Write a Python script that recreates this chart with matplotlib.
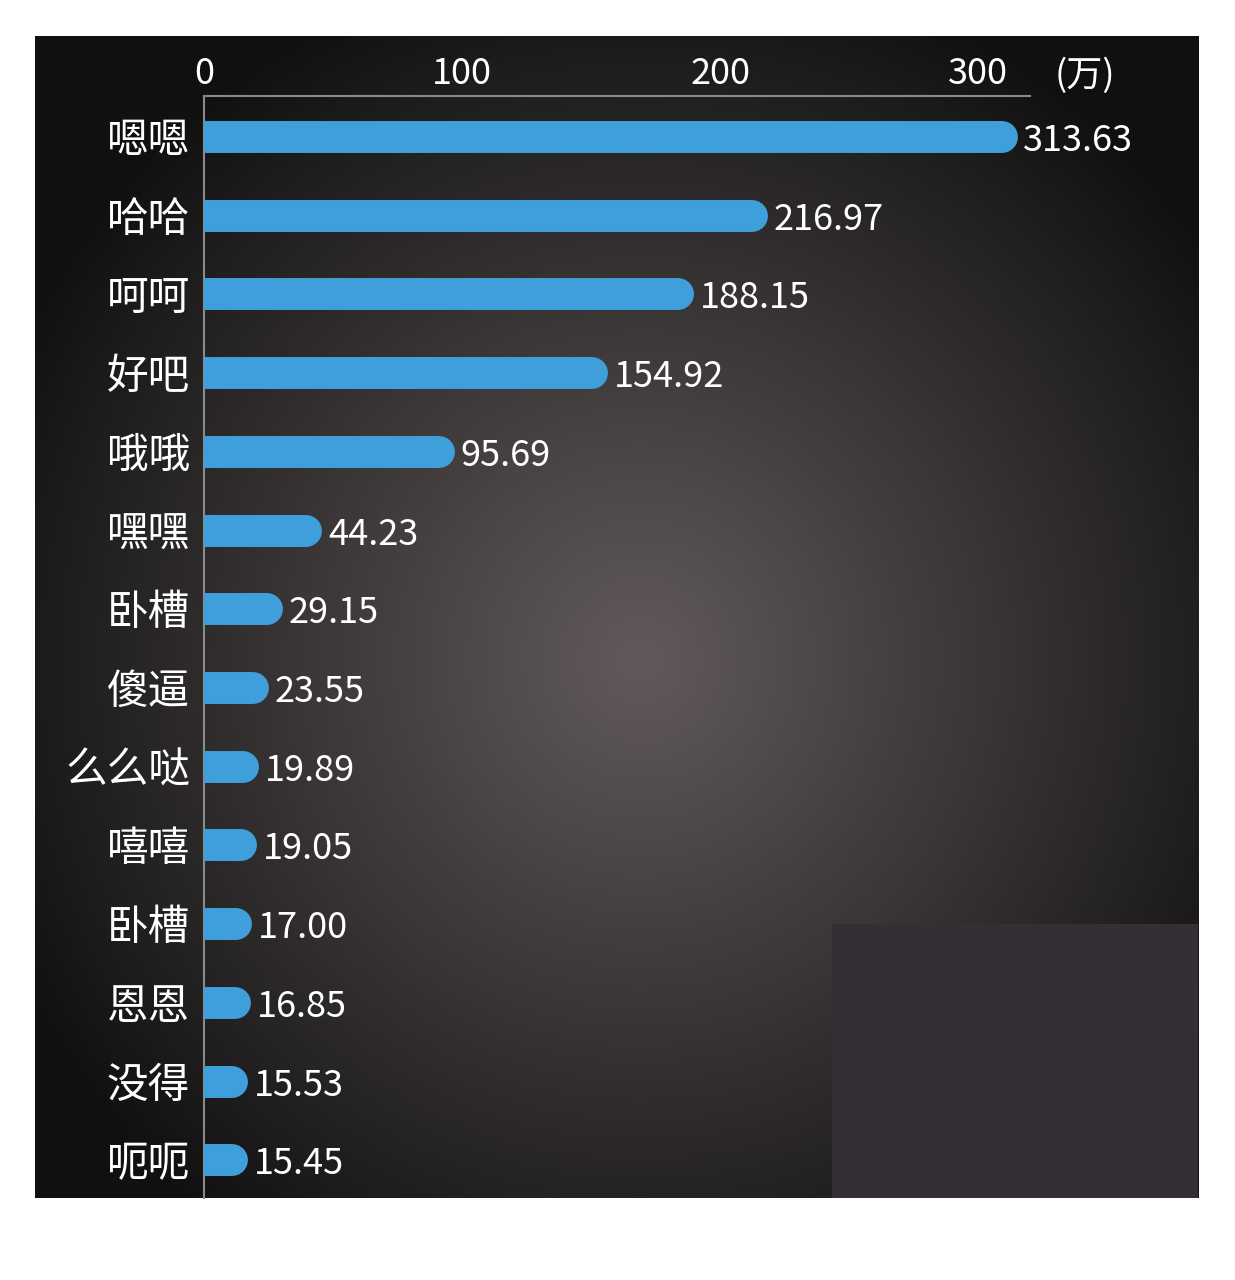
import numpy as np
import matplotlib
matplotlib.use('Agg')
import matplotlib.pyplot as plt
from matplotlib.patches import Rectangle
from matplotlib import transforms

# 中文字体
plt.rcParams['font.family'] = ['Noto Sans CJK SC', 'DejaVu Sans']

# 数据
words = ['嗯嗯', '哈哈', '呵呵', '好吧', '哦哦', '嘿嘿', '卧槽', '傻逼',
         '么么哒', '嘻嘻', '卧槽', '恩恩', '没得', '呃呃']
counts = [313.63, 216.97, 188.15, 154.92, 95.69, 44.23, 29.15, 23.55,
          19.89, 19.05, 17.00, 16.85, 15.53, 15.45]
x_ticks = [0, 100, 200, 300]
unit_label = '(万)'

W, H = 1235, 1280
bar_color = '#3f9fdb'
axis_color = '#8a8a8a'

fig = plt.figure(figsize=(W / 100, H / 100), dpi=100)
fig.patch.set_facecolor('white')

# 深色背景，中间偏亮的径向渐变
bg = fig.add_axes([35 / W, (H - 1198) / H, (1198 - 35) / W, (1198 - 36) / H])
nx, ny = 400, 400
yy, xx = np.mgrid[0:ny, 0:nx]
px = 35 + xx / (nx - 1) * 1163
py = 36 + yy / (ny - 1) * 1162
r = np.sqrt(((px - 640) / 700) ** 2 + ((py - 660) / 720) ** 2)
t = np.clip(1 - r, 0, 1) ** 1.0
dark = np.array([17, 16, 17]) / 255
light = np.array([98, 90, 90]) / 255
img = dark + (light - dark) * t[..., None]
bg.imshow(img, extent=[0, 1, 0, 1], aspect='auto', origin='upper')
# 右下角的遮挡块
bg.add_patch(Rectangle(((832 - 35) / 1163, 0), (1198 - 832) / 1163, (1198 - 924) / 1162,
                       color='#342f35', lw=0))
bg.set_xlim(0, 1)
bg.set_ylim(0, 1)
bg.axis('off')

# 主图
ax = fig.add_axes([204 / W, (H - 1198) / H, (1030 - 204) / W, (1198 - 96) / H])
ax.set_facecolor('none')

# 圆头条形：整体左移，让圆头大致落在数值处
bar_trans = transforms.offset_copy(ax.transData, fig=fig, x=-12, y=0, units='dots')
for i, v in enumerate(counts):
    ax.plot([0, v], [i, i], color=bar_color, lw=23, solid_capstyle='round',
            transform=bar_trans, zorder=3)
    ax.annotate(f'{v:.2f}', xy=(v, i), xytext=(7, 0), textcoords='offset points',
                ha='left', va='center_baseline', color='white', fontsize=26)

ax.set_xlim(0, 320)
ax.set_ylim(len(words) - 1 + 0.48, -0.52)

ax.xaxis.tick_top()
ax.set_xticks(x_ticks)
ax.set_xticklabels([str(x) for x in x_ticks], fontsize=26, color='white')
ax.set_yticks(range(len(words)))
ax.set_yticklabels(words, fontsize=30, color='white')
ax.tick_params(axis='x', length=0, pad=3)
ax.tick_params(axis='y', length=0, pad=10)

for side in ['right', 'bottom']:
    ax.spines[side].set_visible(False)
for side in ['top', 'left']:
    ax.spines[side].set_color(axis_color)
    ax.spines[side].set_linewidth(1.5)

fig.text(1085 / W, 1 - 76 / H, unit_label, ha='center', va='center',
         color='white', fontsize=26)

fig.savefig('out.png', dpi=100)
plt.close(fig)
